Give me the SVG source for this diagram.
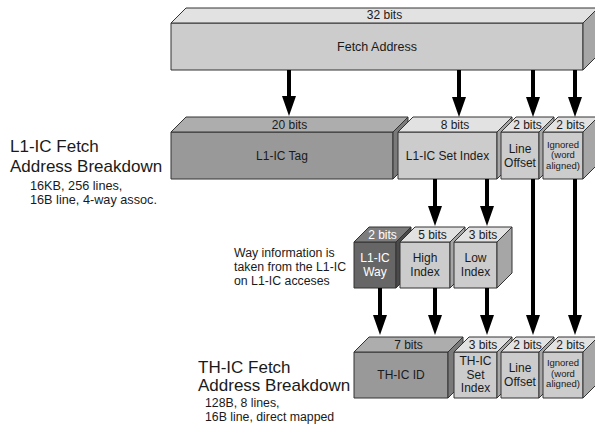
<svg xmlns="http://www.w3.org/2000/svg" width="595" height="430" viewBox="0 0 595 430">
  <style>
    text { font-family: "Liberation Sans", Arial, sans-serif; fill: #1a1a1a; }
    .c { text-anchor: middle; font-size: 12px; }
    .sm { text-anchor: middle; font-size: 9.5px; }
    .w { fill: #ffffff; }
    .big { font-size: 17px; }
    .note { font-size: 12.3px; }
    .edge { stroke: #333333; stroke-width: 1; stroke-linejoin: round; }
    .lf { fill: #cccccc; } .lt { fill: #e2e2e2; } .ls { fill: #a6a6a6; }
    .mf { fill: #999999; } .mt { fill: #adadad; } .ms { fill: #7a7a7a; }
    .df { fill: #666666; } .dt { fill: #7d7d7d; } .ds { fill: #4a4a4a; }
    .arrow { stroke: #000000; stroke-width: 4; fill: none; marker-end: url(#head); }
  </style>
  <defs>
    <marker id="head" viewBox="0 0 20 14" markerWidth="20" markerHeight="14" refX="10" refY="7" orient="auto" markerUnits="userSpaceOnUse">
      <path d="M0,0 L20,7 L0,14 z" fill="#000000"/>
    </marker>
  </defs>
  <rect width="595" height="430" fill="#ffffff"/>

  <!-- 32-bit fetch address -->
  <g id="fetch-address">
    <rect class="edge lf" x="171" y="23" width="412" height="47"/>
    <polygon class="edge lt" points="171,23 186,8 598,8 583,23"/>
    <polygon class="edge ls" points="583,23 598,8 598,55 583,70"/>
    <text class="c" x="384.5" y="19">32 bits</text>
    <text class="c" x="377" y="51" style="font-size:12.5px">Fetch Address</text>
  </g>

  <!-- L1-IC breakdown row -->
  <g id="l1-tag">
    <rect class="edge mf" x="171" y="132" width="222" height="47"/>
    <polygon class="edge mt" points="171,132 186,117 408,117 393,132"/>
    <polygon class="edge ms" points="393,132 408,117 408,164 393,179"/>
    <text class="c" x="289.5" y="128.5">20 bits</text>
    <text class="c" x="282" y="160">L1-IC Tag</text>
  </g>
  <g id="l1-set-index">
    <rect class="edge lf" x="398" y="132" width="99" height="47"/>
    <polygon class="edge lt" points="398,132 413,117 512,117 497,132"/>
    <polygon class="edge ls" points="497,132 512,117 512,164 497,179"/>
    <text class="c" x="455" y="128.5">8 bits</text>
    <text class="c" x="447.5" y="160">L1-IC Set Index</text>
  </g>
  <g id="l1-line-offset">
    <rect class="edge lf" x="501" y="132" width="38" height="47"/>
    <polygon class="edge lt" points="501,132 516,117 554,117 539,132"/>
    <polygon class="edge ls" points="539,132 554,117 554,164 539,179"/>
    <text class="c" x="527.5" y="128.5">2 bits</text>
    <text class="c" x="520" y="153">Line</text>
    <text class="c" x="520" y="166.5">Offset</text>
  </g>
  <g id="l1-ignored">
    <rect class="edge lf" x="543" y="132" width="40" height="47"/>
    <polygon class="edge lt" points="543,132 558,117 598,117 583,132"/>
    <polygon class="edge ls" points="583,132 598,117 598,164 583,179"/>
    <text class="c" x="570.5" y="128.5">2 bits</text>
    <text class="sm" x="563" y="147.5">Ignored</text>
    <text class="sm" x="563" y="158">(word</text>
    <text class="sm" x="563" y="168.5">aligned)</text>
  </g>

  <!-- intermediate fields -->
  <g id="l1-way">
    <rect class="edge df" x="354" y="242" width="42" height="46"/>
    <polygon class="edge dt" points="354,242 369,227 411,227 396,242"/>
    <polygon class="edge ds" points="396,242 411,227 411,273 396,288"/>
    <text class="c w" x="382.5" y="238.5">2 bits</text>
    <text class="c w" x="375" y="262">L1-IC</text>
    <text class="c w" x="375" y="276">Way</text>
  </g>
  <g id="high-index">
    <rect class="edge lf" x="400" y="242" width="50" height="46"/>
    <polygon class="edge lt" points="400,242 415,227 465,227 450,242"/>
    <polygon class="edge ls" points="450,242 465,227 465,273 450,288"/>
    <text class="c" x="432.5" y="238.5">5 bits</text>
    <text class="c" x="425" y="262">High</text>
    <text class="c" x="425" y="276">Index</text>
  </g>
  <g id="low-index">
    <rect class="edge lf" x="454" y="242" width="43" height="46"/>
    <polygon class="edge lt" points="454,242 469,227 512,227 497,242"/>
    <polygon class="edge ls" points="497,242 512,227 512,273 497,288"/>
    <text class="c" x="483" y="238.5">3 bits</text>
    <text class="c" x="475.5" y="262">Low</text>
    <text class="c" x="475.5" y="276">Index</text>
  </g>

  <!-- TH-IC breakdown row -->
  <g id="th-id">
    <rect class="edge mf" x="354" y="352" width="94" height="46"/>
    <polygon class="edge mt" points="354,352 369,337 463,337 448,352"/>
    <polygon class="edge ms" points="448,352 463,337 463,383 448,398"/>
    <text class="c" x="408.5" y="348.5">7 bits</text>
    <text class="c" x="401" y="379">TH-IC ID</text>
  </g>
  <g id="th-set-index">
    <rect class="edge lf" x="454" y="352" width="43" height="46"/>
    <polygon class="edge lt" points="454,352 469,337 512,337 497,352"/>
    <polygon class="edge ls" points="497,352 512,337 512,383 497,398"/>
    <text class="c" x="483" y="348.5">3 bits</text>
    <text class="c" x="475.5" y="365">TH-IC</text>
    <text class="c" x="475.5" y="378.5">Set</text>
    <text class="c" x="475.5" y="392">Index</text>
  </g>
  <g id="th-line-offset">
    <rect class="edge lf" x="501" y="352" width="38" height="46"/>
    <polygon class="edge lt" points="501,352 516,337 554,337 539,352"/>
    <polygon class="edge ls" points="539,352 554,337 554,383 539,398"/>
    <text class="c" x="527.5" y="348.5">2 bits</text>
    <text class="c" x="520" y="372">Line</text>
    <text class="c" x="520" y="386">Offset</text>
  </g>
  <g id="th-ignored">
    <rect class="edge lf" x="543" y="352" width="40" height="46"/>
    <polygon class="edge lt" points="543,352 558,337 598,337 583,352"/>
    <polygon class="edge ls" points="583,352 598,337 598,383 583,398"/>
    <text class="c" x="570.5" y="348.5">2 bits</text>
    <text class="sm" x="563" y="366">Ignored</text>
    <text class="sm" x="563" y="376.5">(word</text>
    <text class="sm" x="563" y="387">aligned)</text>
  </g>

  <!-- captions -->
  <g id="l1-caption">
    <text class="big" x="10" y="152">L1-IC Fetch</text>
    <text class="big" x="10" y="172">Address Breakdown</text>
    <text class="note" x="30" y="190" style="font-size:12.7px">16KB, 256 lines,</text>
    <text class="note" x="30" y="204" style="font-size:12.7px">16B line, 4-way assoc.</text>
  </g>
  <g id="way-note">
    <text class="note" x="234" y="257">Way information is</text>
    <text class="note" x="234" y="271">taken from the L1-IC</text>
    <text class="note" x="234" y="285">on L1-IC acceses</text>
  </g>
  <g id="th-caption">
    <text class="big" x="198" y="373">TH-IC Fetch</text>
    <text class="big" x="198" y="391">Address Breakdown</text>
    <text class="note" x="205" y="407">128B, 8 lines,</text>
    <text class="note" x="205" y="421">16B line, direct mapped</text>
  </g>

  <!-- bit-field connectors -->
  <g id="connectors">
    <line class="arrow" x1="289" y1="70" x2="289" y2="106"/>
    <line class="arrow" x1="459" y1="70" x2="459" y2="107"/>
    <line class="arrow" x1="533" y1="70" x2="533" y2="107"/>
    <line class="arrow" x1="575" y1="70" x2="575" y2="107"/>
    <line class="arrow" x1="435" y1="179" x2="435" y2="216"/>
    <line class="arrow" x1="487" y1="179" x2="487" y2="216"/>
    <line class="arrow" x1="380" y1="288" x2="380" y2="325"/>
    <line class="arrow" x1="435" y1="288" x2="435" y2="325"/>
    <line class="arrow" x1="487" y1="288" x2="487" y2="325"/>
    <line class="arrow" x1="533" y1="179" x2="533" y2="325"/>
    <line class="arrow" x1="575" y1="179" x2="575" y2="325"/>
  </g>
</svg>
